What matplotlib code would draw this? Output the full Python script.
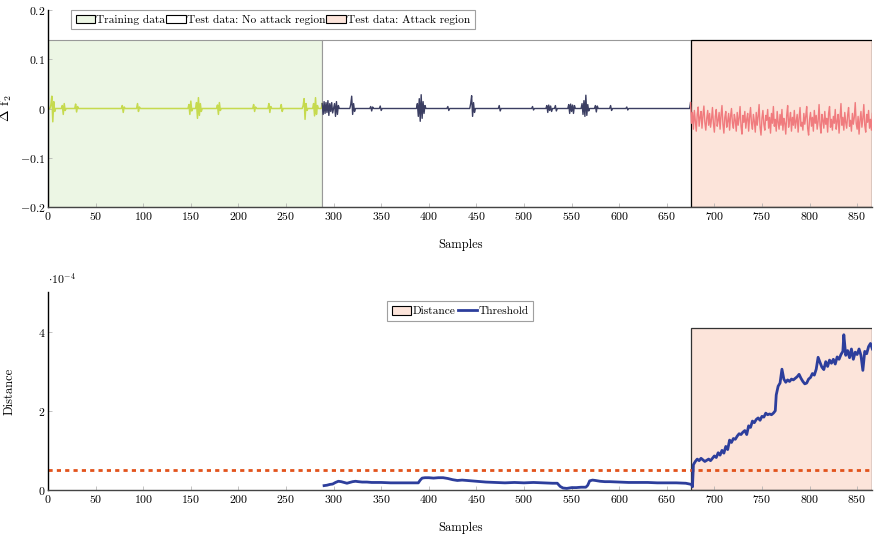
import numpy as np
import matplotlib
matplotlib.use('Agg')
import matplotlib.pyplot as plt
from matplotlib.patches import Rectangle, Patch
from matplotlib.lines import Line2D

plt.rcParams['font.family'] = 'serif'
plt.rcParams['font.serif'] = ['cmr10']
plt.rcParams['mathtext.fontset'] = 'cm'
plt.rcParams['axes.formatter.use_mathtext'] = True
plt.rcParams['font.size'] = 8.5

# Region boundaries (samples)
n_samples = 867
train_end = 288
attack_start = 675
region_top = 0.14
dist_region_top = 4.1

# Delta f2 signal: bursts around a zero baseline (start sample -> values)
train_bursts = {
    3: [0.008, 0.025, -0.027, 0.014, -0.006],
    15: [0.006, -0.012, 0.010, -0.004],
    29: [0.009, -0.007, 0.004],
    78: [0.006, -0.008, 0.003],
    94: [0.010, -0.006, 0.003],
    148: [0.008, -0.012, 0.015, -0.005],
    156: [0.012, -0.020, 0.022, -0.014, 0.010, -0.006],
    178: [0.007, -0.012, 0.012, -0.004],
    216: [0.008, -0.006, 0.003],
    232: [0.010, -0.008, 0.004],
    245: [0.008, -0.006],
    268: [0.006, 0.020, -0.022, 0.010, -0.004],
    279: [0.010, -0.015, 0.022, -0.012, 0.006],
}
test_bursts = {
    288: [0.010, -0.012, 0.014, -0.010, 0.012, -0.008, 0.016, -0.014, 0.010, -0.006, 0.012, -0.009],
    301: [0.010, -0.016, 0.014, -0.012, 0.006],
    318: [0.008, 0.025, -0.012, 0.010, -0.006],
    339: [0.004, -0.005, 0.003],
    349: [0.005, -0.004],
    388: [0.010, -0.016, 0.020, -0.026, 0.028, -0.020, 0.014, -0.010, 0.006],
    420: [0.004, -0.004],
    444: [0.010, 0.026, -0.016, 0.012, -0.008],
    474: [0.006, -0.005],
    509: [0.004, -0.003],
    524: [0.006, -0.008, 0.007, -0.004, 0.005, -0.006],
    533: [0.006, -0.005],
    547: [0.008, -0.010, 0.009, -0.006, 0.007, -0.010, 0.006],
    561: [0.010, -0.012, 0.016, -0.016, 0.027, -0.014, 0.008, -0.005],
    575: [0.006, -0.007, 0.005],
    591: [0.006, -0.004],
    608: [0.003, -0.003],
}
attack_values = [
    0.012, -0.030, -0.008, -0.042, -0.004, -0.026, -0.046, -0.012, 0.003, -0.036, -0.018, -0.006, -0.040, -0.014, 0.005, -0.028,
    -0.044, -0.020, -0.004, -0.034, -0.010, -0.038, -0.022, 0.002, -0.030, -0.048, -0.016, -0.002, -0.036, -0.024, -0.008, -0.042,
    -0.014, 0.006, -0.032, -0.050, -0.018, -0.006, -0.038, -0.026, -0.010, -0.044, -0.016, 0.000, -0.030, -0.040, -0.012, -0.024,
    -0.046, -0.008, -0.034, -0.020, 0.004, -0.036, -0.052, -0.014, -0.028, -0.006, -0.040, -0.022, -0.010, -0.046, -0.018, 0.002,
    -0.030, -0.042, -0.012, -0.026, -0.048, -0.008, -0.034, -0.016, 0.008, -0.038, -0.054, -0.020, -0.004, -0.032, -0.044, -0.014,
    -0.024, -0.002, -0.040, -0.018, -0.050, -0.010, -0.030, 0.004, -0.036, -0.022, -0.046, -0.006, -0.028, -0.042, -0.012, -0.034,
    -0.002, -0.044, -0.020, -0.030, -0.052, -0.014, 0.006, -0.038, -0.024, -0.008, -0.046, -0.018, -0.034, -0.004, -0.040, -0.026,
    -0.012, -0.048, -0.020, 0.002, -0.036, -0.028, -0.044, -0.010, -0.032, -0.016, 0.004, -0.040, -0.054, -0.022, -0.008, -0.036,
    -0.018, -0.046, -0.004, -0.030, -0.014, -0.042, -0.026, 0.008, -0.034, -0.050, -0.012, -0.024, -0.040, -0.006, -0.032, -0.020,
    -0.048, -0.010, 0.004, -0.038, -0.022, -0.044, -0.016, -0.030, -0.002, -0.042, -0.026, -0.012, -0.050, -0.020, 0.010, -0.034,
    -0.018, -0.044, -0.008, -0.028, -0.040, -0.014, 0.002, -0.036, -0.024, -0.046, -0.010, -0.032, -0.018, 0.012, -0.030, -0.042,
    -0.016, -0.052, -0.024, -0.006, -0.038, -0.020, 0.008, -0.034, -0.048, -0.012, -0.028, -0.004, -0.040, -0.022, -0.044, -0.010,
]

# Distance (units of 1e-4)
dist_x = [290, 293, 296, 299, 302, 305, 308, 311, 314, 317, 320, 323, 326, 330, 335, 340, 350, 360, 370, 380,
          389, 391, 393, 396, 400, 405, 410, 415, 420, 425, 430, 435, 440, 445, 450, 455, 460, 470, 480, 490,
          500, 510, 520, 530, 535, 538, 541, 545, 550, 555, 560, 565, 567, 569, 572, 575, 580, 585, 590, 600,
          610, 620, 630, 640, 650, 660, 670, 676, 677, 678, 680, 682, 684, 686, 688, 690, 692, 694, 696, 698,
          700, 702, 704, 706, 708, 710, 712, 714, 716, 718, 720, 722, 724, 726, 728, 730, 732, 734, 736, 738,
          740, 742, 744, 746, 748, 750, 752, 754, 756, 758, 760, 762, 764, 765, 767, 769, 771, 773, 775, 777,
          779, 781, 783, 785, 787, 789, 791, 793, 795, 797, 799, 801, 803, 805, 807, 809, 811, 813, 815, 817,
          819, 821, 823, 825, 827, 829, 831, 833, 835, 836, 838, 840, 842, 844, 846, 848, 850, 852, 854, 856,
          858, 860, 862, 864, 866]
dist_y = [0.11, 0.12, 0.14, 0.15, 0.19, 0.22, 0.21, 0.19, 0.17, 0.19, 0.21, 0.22, 0.21, 0.20, 0.20, 0.19, 0.19, 0.18, 0.18, 0.18,
          0.18, 0.25, 0.30, 0.31, 0.31, 0.30, 0.31, 0.31, 0.29, 0.26, 0.24, 0.25, 0.24, 0.23, 0.22, 0.21, 0.20, 0.19, 0.18, 0.19,
          0.18, 0.19, 0.18, 0.17, 0.17, 0.09, 0.05, 0.04, 0.06, 0.06, 0.07, 0.07, 0.12, 0.23, 0.25, 0.24, 0.22, 0.21, 0.21, 0.20,
          0.19, 0.19, 0.19, 0.18, 0.18, 0.18, 0.17, 0.14, 0.08, 0.64, 0.72, 0.78, 0.74, 0.80, 0.76, 0.72, 0.75, 0.78, 0.74, 0.80,
          0.86, 0.82, 0.94, 0.88, 1.00, 0.93, 1.10, 1.02, 1.26, 1.20, 1.30, 1.28, 1.36, 1.42, 1.40, 1.46, 1.50, 1.40, 1.62, 1.58,
          1.74, 1.70, 1.78, 1.82, 1.76, 1.86, 1.84, 1.94, 1.90, 1.92, 1.90, 1.94, 2.00, 2.40, 2.62, 2.70, 3.05, 2.80, 2.72, 2.78,
          2.74, 2.80, 2.78, 2.82, 2.86, 2.92, 2.82, 2.74, 2.68, 2.70, 2.80, 2.84, 2.94, 2.90, 3.05, 3.35, 3.22, 3.10, 3.04, 3.24,
          3.12, 3.28, 3.20, 3.30, 3.18, 3.36, 3.30, 3.42, 3.50, 3.92, 3.40, 3.52, 3.34, 3.56, 3.30, 3.48, 3.42, 3.56, 3.40, 3.02,
          3.50, 3.44, 3.62, 3.70, 3.56]
threshold = 0.5

xticks = list(range(0, 851, 50))

# colours
c_train_fill = '#ecf6e4'
c_attack_fill = '#fce4da'
c_train_line = '#c6da4e'
c_test_line = '#3b3e62'
c_attack_line = '#f07b7e'
c_dist = '#2d3e9c'
c_thr = '#e2531c'

# build signal from bursts
signal = np.zeros(n_samples)
for start, vals in list(train_bursts.items()) + list(test_bursts.items()):
    signal[start:start + len(vals)] = vals
signal[attack_start:attack_start + len(attack_values)] = attack_values
samples = np.arange(n_samples)

fig = plt.figure(figsize=(8.75, 5.44), dpi=100)
ax1 = fig.add_axes([0.0549, 0.6195, 0.9421, 0.3621])
ax2 = fig.add_axes([0.0549, 0.0993, 0.9421, 0.3640])


def style(ax):
    for s in ['top', 'right']:
        ax.spines[s].set_visible(False)
    ax.spines['left'].set_linewidth(1.0)
    ax.spines['bottom'].set_linewidth(1.0)
    ax.spines['bottom'].set_color('#444444')
    ax.tick_params(direction='in', length=3, width=0.5, color='#aaaaaa', pad=2)
    ax.set_xlim(0, n_samples - 1)
    ax.set_xticks(xticks)


# ---- top panel
style(ax1)
ax1.add_patch(Rectangle((0, -0.2), train_end, region_top + 0.2, facecolor=c_train_fill,
                        edgecolor='#999999', lw=0.8, zorder=0))
ax1.add_patch(Rectangle((train_end, -0.2), attack_start - train_end, region_top + 0.2, facecolor='white',
                        edgecolor='#999999', lw=0.8, zorder=0))
ax1.add_patch(Rectangle((attack_start, -0.2), n_samples - 1 - attack_start, region_top + 0.2,
                        facecolor=c_attack_fill, edgecolor='black', lw=0.9, zorder=0.5))
ax1.plot(samples[:train_end + 1], signal[:train_end + 1], color=c_train_line, lw=1.1)
ax1.plot(samples[train_end:attack_start + 1], signal[train_end:attack_start + 1], color=c_test_line, lw=1.0)
ax1.plot(samples[attack_start:], signal[attack_start:], color=c_attack_line, lw=1.0)
ax1.set_ylim(-0.2, 0.2)
ax1.set_yticks([-0.2, -0.1, 0, 0.1, 0.2])
ax1.set_yticklabels(['$-0.2$', '$-0.1$', '$0$', '$0.1$', '$0.2$'])
ax1.set_xlabel('Samples', labelpad=12, fontsize=9)
ax1.set_ylabel(r'$\Delta$ f$_2$', labelpad=4, fontsize=10)
h1 = [Patch(facecolor=c_train_fill, edgecolor='black', lw=0.8),
      Patch(facecolor='white', edgecolor='black', lw=0.8),
      Patch(facecolor=c_attack_fill, edgecolor='black', lw=0.8)]
leg1 = ax1.legend(h1, ['Training data', 'Test data: No attack region', 'Test data: Attack region'],
                  ncol=3, loc='upper left', bbox_to_anchor=(0.028, 1.0), frameon=True, fancybox=False,
                  edgecolor='#888888', handlelength=1.7, handleheight=0.8, handletextpad=0.1,
                  columnspacing=0.1, borderpad=0.4, borderaxespad=0, fontsize=8.2)
leg1.get_frame().set_linewidth(0.8)

# ---- bottom panel
style(ax2)
ax2.add_patch(Rectangle((attack_start, 0), n_samples - 1 - attack_start, dist_region_top,
                        facecolor=c_attack_fill, edgecolor='#333333', lw=0.9, zorder=0.5))
ax2.axhline(threshold, color=c_thr, lw=2, ls=(0, (1.5, 1.5)), zorder=2)
ax2.plot(dist_x, dist_y, color=c_dist, lw=2, zorder=3)
ax2.set_ylim(0, 5)
ax2.set_yticks([0, 2, 4])
ax2.set_xlabel('Samples', labelpad=12, fontsize=9)
ax2.set_ylabel('Distance', labelpad=16, fontsize=9)
ax2.text(0, 1.03, r'$\cdot 10^{-4}$', transform=ax2.transAxes, fontsize=8.5, ha='left', va='bottom')
h2 = [Patch(facecolor=c_attack_fill, edgecolor='black', lw=0.8),
      Line2D([], [], color=c_dist, lw=2)]
leg2 = ax2.legend(h2, ['Distance', 'Threshold'], ncol=2, loc='upper center', bbox_to_anchor=(0.5, 0.955),
                  frameon=True, fancybox=False, edgecolor='#888888', handlelength=1.7, handleheight=0.8,
                  handletextpad=0.1, columnspacing=0.2, borderpad=0.45, borderaxespad=0, fontsize=8.2)
leg2.get_frame().set_linewidth(0.8)

fig.savefig('out.png', dpi=100)
